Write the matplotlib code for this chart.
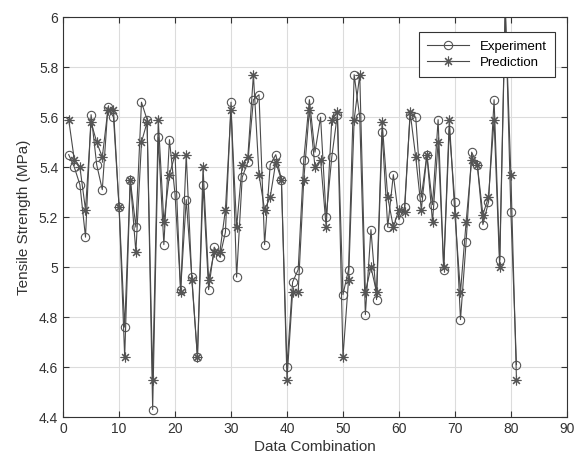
import matplotlib
matplotlib.use("Agg")
import matplotlib.pyplot as plt

# data (point 79 lies above the top of the axis)
combination = list(range(1, 82))

experiment = [5.45, 5.40, 5.33, 5.12, 5.61, 5.41, 5.31, 5.64, 5.60, 5.24,
              4.76, 5.35, 5.16, 5.66, 5.59, 4.43, 5.52, 5.09, 5.51, 5.29,
              4.91, 5.27, 4.96, 4.64, 5.33, 4.91, 5.08, 5.04, 5.14, 5.66,
              4.96, 5.36, 5.42, 5.67, 5.69, 5.09, 5.41, 5.45, 5.35, 4.60,
              4.94, 4.99, 5.43, 5.67, 5.46, 5.60, 5.20, 5.44, 5.61, 4.89,
              4.99, 5.77, 5.60, 4.81, 5.15, 4.87, 5.54, 5.16, 5.37, 5.19,
              5.24, 5.61, 5.60, 5.28, 5.45, 5.25, 5.59, 4.99, 5.55, 5.26,
              4.79, 5.10, 5.46, 5.41, 5.17, 5.26, 5.67, 5.03, 6.05, 5.22, 4.61]

prediction = [5.59, 5.43, 5.40, 5.23, 5.58, 5.50, 5.44, 5.63, 5.63, 5.24,
              4.64, 5.35, 5.06, 5.50, 5.58, 4.55, 5.59, 5.18, 5.37, 5.45,
              4.90, 5.45, 4.95, 4.64, 5.40, 4.95, 5.06, 5.06, 5.23, 5.63,
              5.16, 5.41, 5.44, 5.77, 5.37, 5.23, 5.28, 5.42, 5.35, 4.55,
              4.90, 4.90, 5.35, 5.63, 5.40, 5.43, 5.16, 5.59, 5.62, 4.64,
              4.95, 5.59, 5.77, 4.90, 5.00, 4.90, 5.58, 5.28, 5.16, 5.23,
              5.22, 5.62, 5.44, 5.23, 5.45, 5.18, 5.50, 5.00, 5.59, 5.21,
              4.90, 5.18, 5.43, 5.41, 5.21, 5.28, 5.59, 5.00, 6.03, 5.37, 4.55]

x_ticks = list(range(0, 91, 10))
y_ticks = [4.4, 4.6, 4.8, 5, 5.2, 5.4, 5.6, 5.8, 6]
y_tick_labels = ["4.4", "4.6", "4.8", "5", "5.2", "5.4", "5.6", "5.8", "6"]

plt.rcParams['font.family'] = ['Liberation Sans', 'DejaVu Sans']

fig = plt.figure(figsize=(5.79, 4.65), dpi=100)
ax = fig.add_axes([0.109, 0.103, 0.870, 0.860])

line_color = '#4a4a4a'
ax.plot(combination, experiment, color=line_color, linewidth=0.8,
        marker='o', markersize=6, markerfacecolor='none',
        markeredgecolor='#555555', markeredgewidth=0.8, label='Experiment')
# MATLAB-style asterisk marker
ax.plot(combination, prediction, color=line_color, linewidth=0.8,
        marker=(8, 2, 0), markersize=7,
        markeredgecolor='#555555', markeredgewidth=0.8, label='Prediction')

ax.set_xlim(0, 90)
ax.set_ylim(4.4, 6)
ax.set_xticks(x_ticks)
ax.set_yticks(y_ticks)
ax.set_yticklabels(y_tick_labels)
ax.tick_params(direction='in', length=4, labelsize=10, colors='#333333',
               top=True, right=True)
for s in ax.spines.values():
    s.set_color('#333333')
    s.set_linewidth(0.8)

ax.grid(True, color='#dcdcdc', linewidth=0.8)
ax.set_axisbelow(True)

ax.set_xlabel('Data Combination', fontsize=11, color='#333333', labelpad=3)
ax.set_ylabel('Tensile Strength (MPa)', fontsize=11, color='#333333', labelpad=6)

leg = ax.legend(loc='upper right', bbox_to_anchor=(0.976, 0.962),
                borderaxespad=0, fancybox=False, framealpha=1,
                edgecolor='#333333', fontsize=9.5, handlelength=3.2,
                labelspacing=0.3, borderpad=0.6)
leg.get_frame().set_linewidth(0.8)

fig.savefig('out.png', dpi=100, facecolor='white')
